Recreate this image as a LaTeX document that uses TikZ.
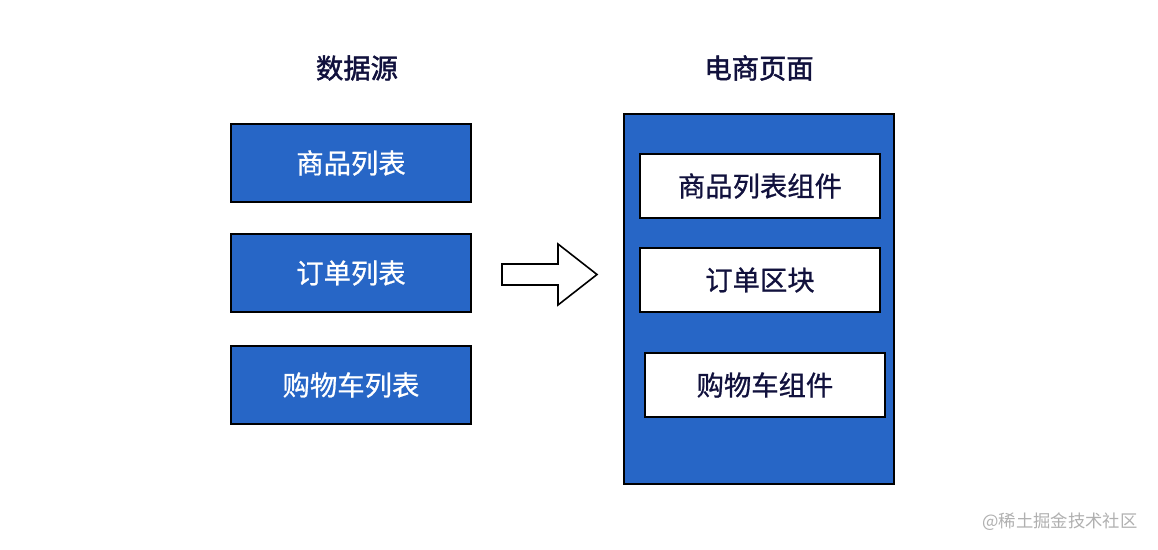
\documentclass[tikz,border=0pt]{standalone}
\usepackage{fontspec}
\newfontfamily\cjk{Noto Sans CJK SC}
\newfontfamily\cjkm[FakeBold=0.8]{Noto Sans CJK SC}
\newfontfamily\cjkt[FakeBold=1.6]{Noto Sans CJK SC}
\definecolor{boxblue}{HTML}{2766C6}
\definecolor{navy}{HTML}{11113D}
\definecolor{wmgray}{HTML}{B0B0B0}
\begin{document}
\begin{tikzpicture}[x=0.75pt,y=-0.75pt,
  srcbox/.style={draw=black,line width=1.5pt,fill=boxblue,text=white,minimum width=180pt,minimum height=58.5pt,inner sep=0pt,font=\cjkm\fontsize{20.5pt}{23pt}\selectfont},
  compbox/.style={draw=black,line width=1.5pt,fill=white,text=navy,minimum width=180pt,minimum height=48pt,inner sep=0pt,font=\cjkm\fontsize{20.5pt}{23pt}\selectfont},
  titletext/.style={text=navy,font=\cjkt\fontsize{20.5pt}{23pt}\selectfont,inner sep=0pt}]
\useasboundingbox (0,0) rectangle (1158,550);
\fill[white] (0,0) rectangle (1158,550);
\node[titletext] (t1) at (357,68) {数据源};
\node[titletext] (t2) at (759,68) {电商页面};
\node[srcbox] (s1) at (351,163) {商品列表};
\node[srcbox] (s2) at (351,273) {订单列表};
\node[srcbox] (s3) at (351,385) {购物车列表};
\node[draw=black,line width=1.5pt,fill=boxblue,minimum width=202.5pt,minimum height=277.5pt,inner sep=0pt] (page) at (759,299) {};
\node[compbox] (c1) at (760,186) {商品列表组件};
\node[compbox] (c2) at (760,280) {订单区块};
\node[compbox] (c3) at (765,385) {购物车组件};
\draw[line width=1.2pt,fill=white,line join=miter] (502,264) -- (558,264) -- (558,244) -- (597,274.5) -- (558,305) -- (558,285) -- (502,285) -- cycle;
\node[text=wmgray,font=\cjk\fontsize{13pt}{15pt}\selectfont,inner sep=0pt] (wm) at (1060,522) {@稀土掘金技术社区};
\end{tikzpicture}
\end{document}
